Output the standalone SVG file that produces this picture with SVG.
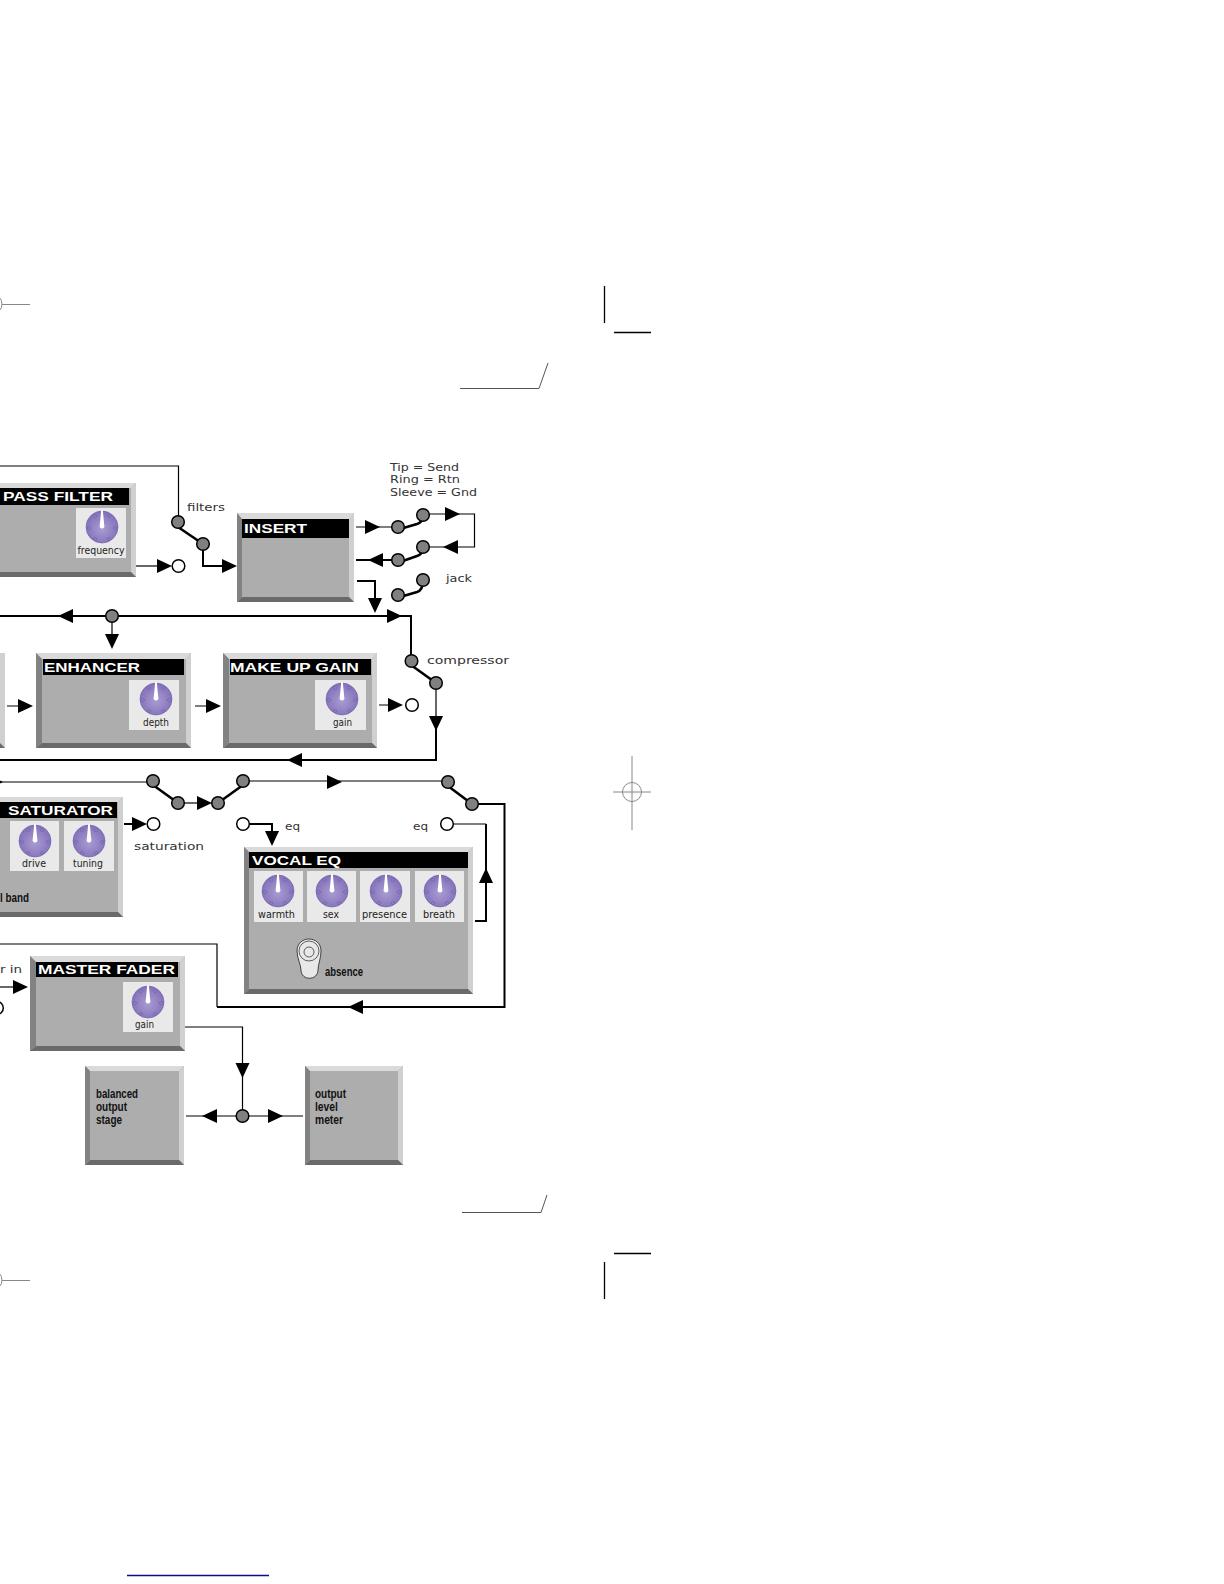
<svg xmlns="http://www.w3.org/2000/svg" xmlns:xlink="http://www.w3.org/1999/xlink" width="1224" height="1584" viewBox="0 0 1224 1584">
<style>
text{font-family:"Liberation Sans",Arial,sans-serif}
.body{fill:#adadad}
.t{fill:#dadada}.r{fill:#d0d0d0}.b{fill:#6a6a6a}.l{fill:#828282}
.bar{fill:#000}
.title{fill:#fff;font-size:12px;font-weight:bold}
.panel{fill:#e9e9e9}
.kl{font-family:"DejaVu Sans",sans-serif;font-size:11px;fill:#222}
.wide{font-family:"DejaVu Sans",sans-serif;font-size:10.500px;fill:#333}
.cond{font-size:12px;font-weight:bold;fill:#111}
.th{fill:none;stroke:#000;stroke-width:1.2}
.tk{fill:none;stroke:#000;stroke-width:2}
.sw{fill:none;stroke:#000;stroke-width:2.6}
.n{fill:#808080;stroke:#000;stroke-width:1.5}
.o{fill:#fff;stroke:#000;stroke-width:1.5}
.crop{fill:none;stroke:#000;stroke-width:1.3}
.gcrop{fill:none;stroke:#555;stroke-width:1}
.reg{fill:none;stroke:#888;stroke-width:1}
</style>
<defs>
<radialGradient id="kg" cx="50%" cy="55%" r="55%"><stop offset="0" stop-color="#a99cd2"/><stop offset="1" stop-color="#8270b9"/></radialGradient>
<g id="knob">
<circle r="16" fill="url(#kg)" stroke="#6d5ca8" stroke-width="0.6"/>
<g fill="#9d8fcc" stroke="#5f4f9c" stroke-width="0.6">
<circle cx="-7" cy="-11" r="1.4"/><circle cx="7" cy="-11" r="1.4"/><circle cx="13" cy="1" r="1.4"/><circle cx="-13" cy="1" r="1.4"/><circle cx="-7" cy="12" r="1.4"/><circle cx="7" cy="12" r="1.4"/>
</g>
<path d="M-0.8,-17 L0.8,-17 L2.400,0 Q0,3 -2.400,0 Z" fill="#fff"/>
</g>
<polygon id="ah" points="0,0 -15,-7 -15,7" fill="#000"/>
</defs>
<rect width="1224" height="1584" fill="#fff"/>

<g id="crop-marks">
<path class="crop" d="M604.500,286V323M614,332.500H651M614,1253.500H651M604.500,1262V1299"/>
<path class="gcrop" d="M460,388.500H539L548,363M462,1212.500H541L547,1195"/>
<path class="reg" d="M632,756V830M613,792H651M2,304.500H30M2,1280.500H30"/>
<circle class="reg" cx="632" cy="792" r="9.500" stroke="#555"/>
<circle class="reg" cx="-8" cy="304" r="10" stroke="#555"/>
<circle class="reg" cx="-8" cy="1280" r="10" stroke="#555"/>
<path d="M127,1575.500H269" fill="none" stroke="#0f0f80" stroke-width="1.300"/>
</g>

<g id="node-pass-filter">
<rect class="body" x="-10" y="483" width="146" height="94"/>
<polygon class="t" points="-10,483 136,483 131,488 -10,488"/>
<polygon class="r" points="136,483 136,577 131,572 131,488"/>
<polygon class="b" points="-10,577 136,577 131,572 -10,572"/>
<rect class="bar" x="-10" y="488" width="139" height="17"/>
<text class="title" x="3" y="501" textLength="110" lengthAdjust="spacingAndGlyphs">PASS FILTER</text>
<rect class="panel" x="76" y="508" width="50" height="50"/>
<use href="#knob" x="102" y="527"/>
<text class="kl" x="77.500" y="554" textLength="47" lengthAdjust="spacingAndGlyphs">frequency</text>
</g>

<g id="node-insert">
<rect class="body" x="237" y="513" width="117" height="89"/>
<polygon class="t" points="237,513 354,513 349,519 242,519"/>
<polygon class="r" points="354,513 354,602 349,597 349,519"/>
<polygon class="b" points="237,602 354,602 349,597 242,597"/>
<polygon class="l" points="237,513 242,519 242,597 237,602"/>
<rect class="bar" x="242" y="519" width="107" height="19"/>
<text class="title" x="244" y="532.500" textLength="63" lengthAdjust="spacingAndGlyphs">INSERT</text>
</g>

<g id="node-prev-fragment">
<rect class="r" x="-5" y="653" width="10" height="95"/>
<polygon class="b" points="-5,748 5,748 0,743 -5,743"/>
</g>

<g id="node-enhancer">
<rect class="body" x="36" y="653" width="155" height="95"/>
<polygon class="t" points="36,653 191,653 186,659 42,659"/>
<polygon class="r" points="191,653 191,748 186,743 186,659"/>
<polygon class="b" points="36,748 191,748 186,743 42,743"/>
<polygon class="l" points="36,653 42,659 42,743 36,748"/>
<rect class="bar" x="43" y="659" width="141" height="16"/>
<text class="title" x="44" y="672" textLength="96" lengthAdjust="spacingAndGlyphs">ENHANCER</text>
<rect class="panel" x="129" y="680" width="50" height="50"/>
<use href="#knob" x="156" y="699"/>
<text class="kl" x="143" y="726" textLength="26" lengthAdjust="spacingAndGlyphs">depth</text>
</g>

<g id="node-make-up-gain">
<rect class="body" x="223" y="653" width="154" height="95"/>
<polygon class="t" points="223,653 377,653 372,659 229,659"/>
<polygon class="r" points="377,653 377,748 372,743 372,659"/>
<polygon class="b" points="223,748 377,748 372,743 229,743"/>
<polygon class="l" points="223,653 229,659 229,743 223,748"/>
<rect class="bar" x="230" y="659" width="141" height="16"/>
<text class="title" x="230" y="672" textLength="129" lengthAdjust="spacingAndGlyphs">MAKE UP GAIN</text>
<rect class="panel" x="315" y="680" width="51" height="50"/>
<use href="#knob" x="342" y="699"/>
<text class="kl" x="333" y="726" textLength="19" lengthAdjust="spacingAndGlyphs">gain</text>
</g>

<g id="node-saturator">
<rect class="body" x="-10" y="797" width="133" height="120"/>
<polygon class="t" points="-10,797 123,797 118,802 -10,802"/>
<polygon class="r" points="123,797 123,917 118,912 118,802"/>
<polygon class="b" points="-10,917 123,917 118,912 -10,912"/>
<rect class="bar" x="-10" y="802" width="127" height="16"/>
<text class="title" x="8" y="814.500" textLength="105" lengthAdjust="spacingAndGlyphs">SATURATOR</text>
<rect class="panel" x="10" y="821" width="49" height="50"/>
<use href="#knob" x="35" y="841"/>
<text class="kl" x="22" y="867" textLength="24" lengthAdjust="spacingAndGlyphs">drive</text>
<rect class="panel" x="64" y="821" width="50" height="50"/>
<use href="#knob" x="89" y="841"/>
<text class="kl" x="73" y="867" textLength="30" lengthAdjust="spacingAndGlyphs">tuning</text>
<text class="cond" x="0" y="902" textLength="29" lengthAdjust="spacingAndGlyphs">l band</text>
</g>

<g id="node-vocal-eq">
<rect class="body" x="244" y="847" width="229" height="147"/>
<polygon class="t" points="244,847 473,847 468,852 249,852"/>
<polygon class="r" points="473,847 473,994 468,989 468,852"/>
<polygon class="b" points="244,994 473,994 468,989 249,989"/>
<polygon class="l" points="244,847 249,852 249,989 244,994"/>
<rect class="bar" x="249" y="852" width="219" height="16"/>
<text class="title" x="252" y="865" textLength="89" lengthAdjust="spacingAndGlyphs">VOCAL EQ</text>
<rect class="panel" x="254" y="871" width="49" height="51"/>
<rect class="panel" x="307" y="871" width="49" height="51"/>
<rect class="panel" x="360" y="871" width="50" height="51"/>
<rect class="panel" x="415" y="871" width="49" height="51"/>
<use href="#knob" x="278" y="891"/>
<use href="#knob" x="332" y="891"/>
<use href="#knob" x="386" y="891"/>
<use href="#knob" x="440" y="891"/>
<text class="kl" x="258" y="918" textLength="37" lengthAdjust="spacingAndGlyphs">warmth</text>
<text class="kl" x="323" y="918" textLength="16" lengthAdjust="spacingAndGlyphs">sex</text>
<text class="kl" x="362" y="918" textLength="45" lengthAdjust="spacingAndGlyphs">presence</text>
<text class="kl" x="423" y="918" textLength="32" lengthAdjust="spacingAndGlyphs">breath</text>
<path d="M297,951 C297,935 321,935 321,951 C321,958 318,965 318,970 C318,981 301,981 301,970 C301,965 297,958 297,951 Z" fill="#e8e8e8" stroke="#222" stroke-width="0.8"/>
<circle cx="309" cy="951" r="10" fill="none" stroke="#222" stroke-width="0.7"/>
<circle cx="309" cy="952" r="5" fill="none" stroke="#222" stroke-width="0.7"/>
<text class="cond" x="325" y="976" textLength="38" lengthAdjust="spacingAndGlyphs">absence</text>
</g>

<g id="node-master-fader">
<rect class="body" x="30" y="956" width="155" height="95"/>
<polygon class="t" points="30,956 185,956 180,962 36,962"/>
<polygon class="r" points="185,956 185,1051 180,1046 180,962"/>
<polygon class="b" points="30,1051 185,1051 180,1046 36,1046"/>
<polygon class="l" points="30,956 36,962 36,1046 30,1051"/>
<rect class="bar" x="36" y="962" width="142" height="15"/>
<text class="title" x="38" y="974" textLength="137" lengthAdjust="spacingAndGlyphs">MASTER FADER</text>
<rect class="panel" x="123" y="982" width="50" height="50"/>
<use href="#knob" x="148" y="1002"/>
<text class="kl" x="135" y="1028" textLength="19" lengthAdjust="spacingAndGlyphs">gain</text>
</g>

<g id="node-balanced-output">
<rect class="body" x="85" y="1066" width="99" height="99"/>
<polygon class="t" points="85,1066 184,1066 179,1071 90,1071"/>
<polygon class="r" points="184,1066 184,1165 179,1160 179,1071"/>
<polygon class="b" points="85,1165 184,1165 179,1160 90,1160"/>
<polygon class="l" points="85,1066 90,1071 90,1160 85,1165"/>
<text class="cond" x="96" y="1098" textLength="42" lengthAdjust="spacingAndGlyphs">balanced</text>
<text class="cond" x="96" y="1111" textLength="31" lengthAdjust="spacingAndGlyphs">output</text>
<text class="cond" x="96" y="1124" textLength="26" lengthAdjust="spacingAndGlyphs">stage</text>
</g>

<g id="node-output-meter">
<rect class="body" x="305" y="1066" width="98" height="99"/>
<polygon class="t" points="305,1066 403,1066 398,1071 310,1071"/>
<polygon class="r" points="403,1066 403,1165 398,1160 398,1071"/>
<polygon class="b" points="305,1165 403,1165 398,1160 310,1160"/>
<polygon class="l" points="305,1066 310,1071 310,1160 305,1165"/>
<text class="cond" x="315" y="1098" textLength="31" lengthAdjust="spacingAndGlyphs">output</text>
<text class="cond" x="315" y="1111" textLength="23" lengthAdjust="spacingAndGlyphs">level</text>
<text class="cond" x="315" y="1124" textLength="28" lengthAdjust="spacingAndGlyphs">meter</text>
</g>

<g id="connectors">
<path class="th" d="M0,466H178.500V522"/>
<path class="sw" d="M178,527L203,544"/>
<path class="tk" d="M203,544V566H225"/>
<path class="th" d="M136,566H160"/>
<path class="th" d="M356,527H398"/>
<path class="sw" d="M400,529L417,524Q423,522 423,515"/>
<path class="th" d="M423,514H474.500V547H423"/>
<path class="sw" d="M400,562L417,556Q423,554 423,547"/>
<path class="tk" d="M356,560H398"/>
<path class="sw" d="M400,597L417,592Q423,590 423,581"/>
<path class="tk" d="M357,581H375V602"/>
<path class="tk" d="M0,616H411V661"/>
<path class="sw" d="M411,665L436,683"/>
<path class="th" d="M436,683V720"/>
<path class="tk" d="M436,720V760H0"/>
<path class="th" d="M112,616V636"/>
<path class="th" d="M7,706H20M195,706H208M379,705H390"/>
<path class="th" d="M0,782H153"/>
<path class="sw" d="M153,785L178,803"/>
<path class="th" d="M178,803H200"/>
<path class="sw" d="M218,803L243,785"/>
<path class="th" d="M243,781H448"/>
<path class="sw" d="M448,786L472,804"/>
<path class="tk" d="M472,804H504.500V1007H217"/>
<path class="th" d="M217,1007V944H0"/>
<path class="tk" d="M124,824H135"/>
<path class="tk" d="M243,824H272V835"/>
<path class="th" d="M447,824H486"/>
<path class="tk" d="M486,824V921H475"/>
<path class="th" d="M0,987H15"/>
<path class="th" d="M185,1027H242.500V1116"/>
<path class="th" d="M186,1116H303"/>
<use href="#ah" transform="translate(172,566)"/>
<use href="#ah" transform="translate(237,566)"/>
<use href="#ah" transform="translate(380,527)"/>
<use href="#ah" transform="translate(460,514)"/>
<use href="#ah" transform="translate(443,547) rotate(180)"/>
<use href="#ah" transform="translate(368,560) rotate(180)"/>
<use href="#ah" transform="translate(375,613) rotate(90)"/>
<use href="#ah" transform="translate(402,616)"/>
<use href="#ah" transform="translate(58,616) rotate(180)"/>
<use href="#ah" transform="translate(112,649) rotate(90)"/>
<use href="#ah" transform="translate(33,706)"/>
<use href="#ah" transform="translate(221,706)"/>
<use href="#ah" transform="translate(403,705)"/>
<use href="#ah" transform="translate(436,731) rotate(90)"/>
<use href="#ah" transform="translate(287,760) rotate(180)"/>
<use href="#ah" transform="translate(3,782)"/>
<use href="#ah" transform="translate(342,782)"/>
<use href="#ah" transform="translate(212,803)"/>
<use href="#ah" transform="translate(147,824)"/>
<use href="#ah" transform="translate(272,846) rotate(90)"/>
<use href="#ah" transform="translate(486,868) rotate(-90)"/>
<use href="#ah" transform="translate(348,1007) rotate(180)"/>
<use href="#ah" transform="translate(28,987)"/>
<use href="#ah" transform="translate(242.500,1078) rotate(90)"/>
<use href="#ah" transform="translate(202,1116) rotate(180)"/>
<use href="#ah" transform="translate(283,1116)"/>
</g>

<g id="switch-points">
<circle class="n" cx="178" cy="522" r="6.300"/><circle class="n" cx="203" cy="544" r="6.300"/>
<circle class="o" cx="178.500" cy="566" r="6.300"/>
<circle class="n" cx="398" cy="527" r="6.300"/><circle class="n" cx="423" cy="515" r="6.300"/>
<circle class="n" cx="398" cy="560" r="6.300"/><circle class="n" cx="423" cy="547" r="6.300"/>
<circle class="n" cx="398" cy="595" r="6.300"/><circle class="n" cx="423" cy="580" r="6.300"/>
<circle class="n" cx="112" cy="616" r="6.300"/>
<circle class="n" cx="411.500" cy="661" r="6.300"/><circle class="n" cx="436" cy="683" r="6.300"/>
<circle class="o" cx="412" cy="705" r="6.300"/>
<circle class="n" cx="153" cy="781" r="6.300"/><circle class="n" cx="178" cy="803" r="6.300"/>
<circle class="n" cx="218" cy="803" r="6.300"/><circle class="n" cx="243" cy="781" r="6.300"/>
<circle class="n" cx="448" cy="782" r="6.300"/><circle class="n" cx="472" cy="804" r="6.300"/>
<circle class="o" cx="153.500" cy="824" r="6.300"/>
<circle class="o" cx="243" cy="824" r="6.300"/>
<circle class="o" cx="447" cy="824" r="6.300"/>
<circle class="o" cx="-3" cy="1008" r="6.300"/>
<circle class="n" cx="242.500" cy="1116" r="6.300"/>
</g>

<g id="labels">
<text class="wide" x="187" y="511" textLength="38" lengthAdjust="spacingAndGlyphs">filters</text>
<text class="wide" x="390" y="471" textLength="69" lengthAdjust="spacingAndGlyphs">Tip = Send</text>
<text class="wide" x="390" y="483" textLength="70" lengthAdjust="spacingAndGlyphs">Ring = Rtn</text>
<text class="wide" x="390" y="496" textLength="87" lengthAdjust="spacingAndGlyphs">Sleeve = Gnd</text>
<text class="wide" x="446" y="582" textLength="26" lengthAdjust="spacingAndGlyphs">jack</text>
<text class="wide" x="427" y="664" textLength="82" lengthAdjust="spacingAndGlyphs">compressor</text>
<text class="wide" x="134" y="850" textLength="70" lengthAdjust="spacingAndGlyphs">saturation</text>
<text class="wide" x="285" y="830" textLength="15" lengthAdjust="spacingAndGlyphs">eq</text>
<text class="wide" x="413" y="830" textLength="15" lengthAdjust="spacingAndGlyphs">eq</text>
<text class="wide" x="0" y="973" textLength="22" lengthAdjust="spacingAndGlyphs">r in</text>
</g>
</svg>
